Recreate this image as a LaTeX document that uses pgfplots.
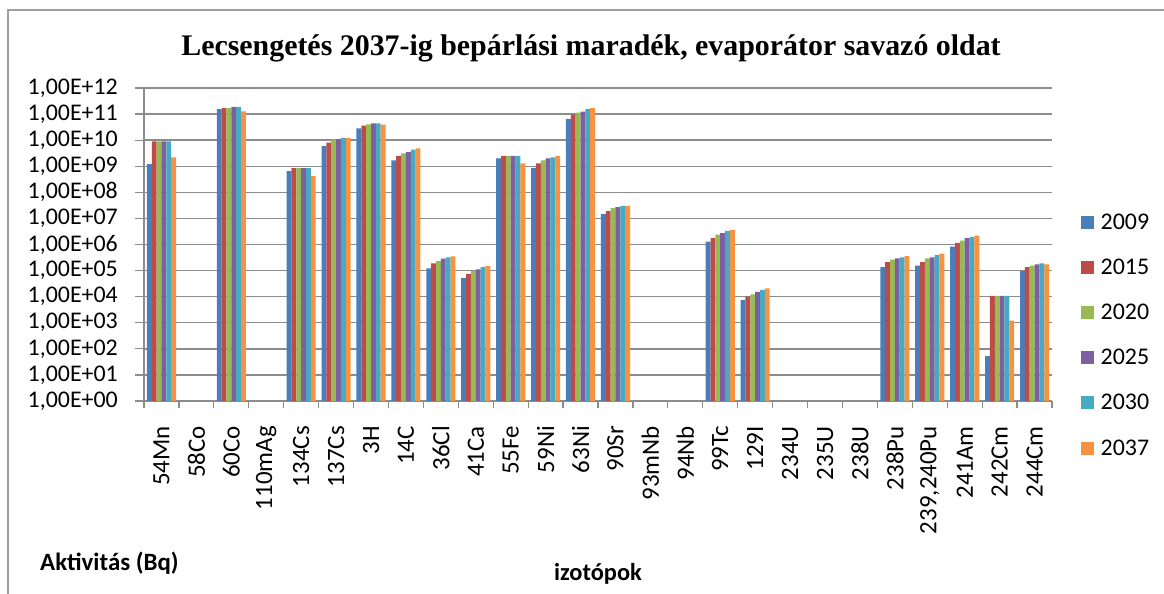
\documentclass[border=0pt]{standalone}
\usepackage{fontspec}
\setmainfont{Carlito}
\newfontfamily\titlefont{Liberation Serif}
\usepackage{pgfplots}
\usepackage{pgfplotstable}
\pgfplotsset{compat=1.18}

\definecolor{s2009}{HTML}{4A7EBB}
\definecolor{s2015}{HTML}{BE4B48}
\definecolor{s2020}{HTML}{98B954}
\definecolor{s2025}{HTML}{7D60A0}
\definecolor{s2030}{HTML}{46AAC5}
\definecolor{s2037}{HTML}{F69240}
\definecolor{gridgray}{HTML}{8C8C8C}

% Activity (Bq) per isotope; nan = no value
\pgfplotstableread{
idx  a2009   a2015   a2020   a2025   a2030   a2037
0    1.2e9   9.0e9   9.0e9   9.0e9   9.0e9   2.2e9
1    nan     nan     nan     nan     nan     nan
2    1.56e11 1.7e11  1.7e11  1.9e11  1.9e11  1.26e11
3    nan     nan     nan     nan     nan     nan
4    6.5e8   8.5e8   8.5e8   8.5e8   8.5e8   4.2e8
5    5.9e9   8.1e9   1.05e10 1.1e10  1.23e10 1.23e10
6    2.8e10  3.6e10  4.0e10  4.4e10  4.4e10  3.9e10
7    1.66e9  2.5e9   3.1e9   3.5e9   4.3e9   4.8e9
8    1.22e5  1.9e5   2.3e5   2.9e5   3.2e5   3.5e5
9    5.3e4   7.4e4   9.8e4   1.1e5   1.37e5  1.5e5
10   2.0e9   2.5e9   2.5e9   2.5e9   2.5e9   1.3e9
11   8.7e8   1.3e9   1.66e9  2.0e9   2.2e9   2.5e9
12   6.6e10  9.5e10  1.13e11 1.24e11 1.56e11 1.7e11
13   1.45e7  1.9e7   2.5e7   2.7e7   3.0e7   3.0e7
14   nan     nan     nan     nan     nan     nan
15   nan     nan     nan     nan     nan     nan
16   1.28e6  1.74e6  2.4e6   2.7e6   3.3e6   3.6e6
17   7.4e3   1.0e4   1.23e4  1.54e4  1.83e4  2.1e4
18   nan     nan     nan     nan     nan     nan
19   nan     nan     nan     nan     nan     nan
20   nan     nan     nan     nan     nan     nan
21   1.37e5  2.1e5   2.6e5   2.95e5  3.2e5   3.6e5
22   1.55e5  2.1e5   2.95e5  3.2e5   4.0e5   4.5e5
23   8.3e5   1.15e6  1.4e6   1.74e6  1.95e6  2.2e6
24   52      1.07e4  1.07e4  1.07e4  1.07e4  1.2e3
25   9.8e4   1.37e5  1.55e5  1.74e5  1.9e5   1.74e5
}\activity

\pgfplotsset{
  sq/.style={fill=#1, draw=none,
    legend image code/.code={\fill[#1] (1bp,-6.5bp) rectangle (14bp,6.5bp);}},
}

\begin{document}
\begin{tikzpicture}[x=1bp,y=1bp]
\path[use as bounding box] (0,0) rectangle (1164,594);
\draw[gray!75, line width=1.6bp] (8,0) -- (8,584) -- (1164,584);

\node[anchor=base, font=\titlefont\bfseries\fontsize{30}{34}\selectfont]
  at (591,538) {Lecsengetés 2037-ig bepárlási maradék, evaporátor savazó oldat};
\node[anchor=base west, font=\bfseries\fontsize{25}{28}\selectfont, inner sep=0pt]
  at (40,23) {Aktivitás (Bq)};
\node[anchor=base, font=\bfseries\fontsize{24.5}{28}\selectfont, inner sep=0pt]
  at (598,13) {izotópok};

\begin{axis}[
  at={(144bp,193bp)}, anchor=south west,
  scale only axis, width=908bp, height=313bp,
  xmin=-0.5, xmax=25.5,
  ymode=log, ymin=1, ymax=1e12, log origin=infty,
  ybar=0pt, bar width=4.85bp,
  axis lines*=left,
  axis line style={draw=gridgray, line width=1.4bp},
  ymajorgrids, major grid style={draw=gridgray, line width=1.4bp},
  tick align=outside,
  major tick length=9bp, minor tick length=7bp,
  tick style={draw=gridgray, line width=1.2bp},
  major x tick style={draw=none},
  xtick={0,...,25},
  minor xtick={-0.5,0.5,...,25.5},
  xticklabels={54Mn,58Co,60Co,110mAg,134Cs,137Cs,3H,14C,36Cl,41Ca,55Fe,59Ni,63Ni,90Sr,93mNb,94Nb,99Tc,129I,234U,235U,238U,238Pu,{239,240Pu},241Am,242Cm,244Cm},
  xticklabel style={rotate=90, anchor=east, font=\fontsize{25}{30}\selectfont, inner sep=0pt, xshift=-16bp},
  ytick={1,10,100,1e3,1e4,1e5,1e6,1e7,1e8,1e9,1e10,1e11,1e12},
  yticklabels={{1,00E+00},{1,00E+01},{1,00E+02},{1,00E+03},{1,00E+04},{1,00E+05},{1,00E+06},{1,00E+07},{1,00E+08},{1,00E+09},{1,00E+10},{1,00E+11},{1,00E+12}},
  yminorticks=false,
  yticklabel style={anchor=east, font=\fontsize{24}{28}\selectfont, inner sep=0pt, xshift=-17bp},
  legend style={at={(1.028,0.612)}, anchor=north west, draw=none, fill=none,
    font=\fontsize{24}{28}\selectfont, row sep=24.2bp,
    nodes={inner sep=2bp},
    /tikz/every odd column/.append style={column sep=5bp}},
  legend cell align=left,
]
\addplot[sq=s2009] table[x=idx, y=a2009] {\activity};
\addplot[sq=s2015] table[x=idx, y=a2015] {\activity};
\addplot[sq=s2020] table[x=idx, y=a2020] {\activity};
\addplot[sq=s2025] table[x=idx, y=a2025] {\activity};
\addplot[sq=s2030] table[x=idx, y=a2030] {\activity};
\addplot[sq=s2037] table[x=idx, y=a2037] {\activity};
\legend{2009,2015,2020,2025,2030,2037}
\end{axis}
\end{tikzpicture}
\end{document}
